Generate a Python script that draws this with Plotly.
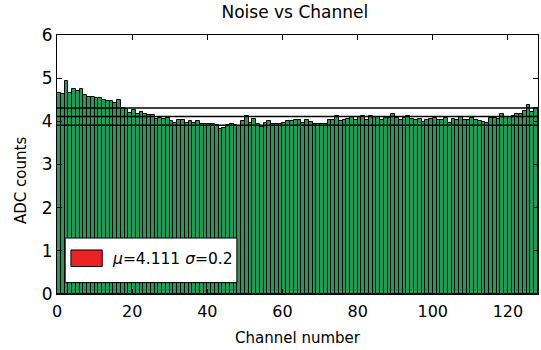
import plotly.graph_objects as go

channels = list(range(128))
noise = [
    4.66, 4.63, 4.93, 4.66, 4.74, 4.71, 4.74, 4.60, 4.57, 4.57,
    4.54, 4.53, 4.49, 4.46, 4.46, 4.43, 4.49, 4.31, 4.29, 4.20,
    4.26, 4.18, 4.21, 4.17, 4.15, 4.14, 4.06, 4.08, 4.05, 4.08,
    4.01, 3.97, 4.03, 4.02, 3.97, 4.00, 3.97, 4.00, 3.94, 3.94,
    3.93, 3.93, 3.92, 3.82, 3.84, 3.92, 3.94, 3.92, 3.89, 4.00,
    4.12, 3.95, 4.05, 3.93, 3.87, 3.95, 4.00, 3.94, 3.93, 3.94,
    3.95, 4.00, 4.00, 4.02, 4.04, 3.95, 4.02, 3.99, 3.93, 3.93,
    3.93, 3.93, 4.02, 4.02, 4.13, 4.00, 4.04, 4.05, 4.11, 4.02,
    4.09, 4.12, 4.02, 4.13, 4.10, 4.10, 4.04, 4.07, 4.07, 4.16,
    4.07, 4.03, 4.07, 4.12, 4.05, 4.03, 4.06, 3.98, 4.02, 4.05,
    4.07, 4.02, 4.02, 4.07, 3.95, 4.06, 4.03, 4.09, 4.02, 4.02,
    4.07, 4.02, 4.00, 3.98, 3.95, 4.07, 4.07, 4.05, 4.16, 4.09,
    4.11, 4.12, 4.16, 4.16, 4.24, 4.38, 4.22, 4.30,
]
mu = 4.111
sigma = 0.2
legend_label = "<i>μ</i>=4.111 <i>σ</i>=0.2"

FONT = "DejaVu Sans"

fig = go.Figure()
fig.add_trace(go.Bar(
    x=channels, y=noise, offset=0, width=1,
    marker=dict(color="#239a58", line=dict(color="black", width=1)),
    showlegend=False,
))

shapes = []
for v in (mu + sigma, mu, mu - sigma):
    shapes.append(dict(type="line", xref="paper", x0=0, x1=1, yref="y", y0=v, y1=v,
                       line=dict(color="black", width=1.5), layer="above"))
# legend box
shapes.append(dict(type="rect", xref="paper", yref="paper", x0=0.017, x1=0.374, y0=0.044, y1=0.216,
                   fillcolor="white", line=dict(color="black", width=1), layer="above"))
shapes.append(dict(type="rect", xref="paper", yref="paper", x0=0.029, x1=0.094, y0=0.106, y1=0.170,
                   fillcolor="#ee2222", line=dict(color="black", width=1), layer="above"))

fig.update_layout(
    width=541, height=350,
    margin=dict(l=57, r=3, t=35, b=56, autoexpand=False),
    paper_bgcolor="white", plot_bgcolor="white",
    font=dict(family=FONT, color="black", size=15),
    title=dict(text="Noise vs Channel", x=0.545, xanchor="center", y=0.967, yanchor="middle",
               font=dict(size=17, family=FONT)),
    bargap=0,
    shapes=shapes,
    annotations=[
        dict(text=legend_label, xref="paper", yref="paper", x=0.11, y=0.137,
             xanchor="left", yanchor="middle", showarrow=False,
             font=dict(size=15.5, family=FONT)),
        dict(text="ADC counts", xref="paper", yref="paper", x=-0.075, y=0.44,
             xanchor="center", yanchor="middle", showarrow=False, textangle=-90,
             font=dict(size=15, family=FONT)),
    ],
    xaxis=dict(range=[0, 128], tickvals=[0, 20, 40, 60, 80, 100, 120],
               ticks="inside", ticklen=5, tickcolor="black", mirror="allticks",
               showline=True, linecolor="black", linewidth=1, showgrid=False, zeroline=False,
               automargin=False, ticklabelstandoff=3,
               title=dict(text="Channel number", font=dict(size=15), standoff=12),
               tickfont=dict(size=16)),
    yaxis=dict(range=[0, 6], tickvals=[0, 1, 2, 3, 4, 5, 6],
               ticks="inside", ticklen=5, tickcolor="black", mirror="allticks",
               showline=True, linecolor="black", linewidth=1, showgrid=False, zeroline=False,
               automargin=False,
               tickfont=dict(size=17)),
)

fig.write_html(
    "out.html",
    config={"displayModeBar": False},
    post_script="document.body.style.margin='0';document.body.style.overflow='hidden';",
)
